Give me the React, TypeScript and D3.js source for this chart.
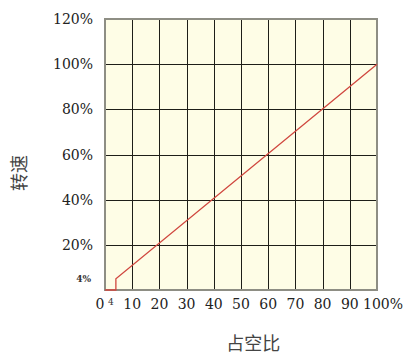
import React, { useEffect, useRef } from "react";
import * as d3 from "d3";

// duty ratio (x, %) vs speed (y, %)
const dutyPoints = [0, 4, 4, 100];
const speedPoints = [0, 0, 5, 100];
const xTicks = [0, 10, 20, 30, 40, 50, 60, 70, 80, 90, 100];
const xTickLabels = ["0", "10", "20", "30", "40", "50", "60", "70", "80", "90", "100%"];
const yTicks = [20, 40, 60, 80, 100, 120];
const yTickLabels = ["20%", "40%", "60%", "80%", "100%", "120%"];
const startMarkX = 4;
const startMarkY = 5;
const startLabelX = "4";
const startLabelY = "4%";
const xTitle = "占空比";
const yTitle = "转速";

export default function App() {
  const ref = useRef<SVGSVGElement>(null);

  useEffect(() => {
    const svg = d3.select(ref.current);
    svg.selectAll("*").remove();

    const margin = { top: 19, right: 27, bottom: 64, left: 105 };
    const width = 404 - margin.left - margin.right;
    const height = 354 - margin.top - margin.bottom;
    const font = "'DejaVu Serif', serif";

    const x = d3.scaleLinear().domain([0, 100]).range([0, width]);
    const y = d3.scaleLinear().domain([0, 120]).range([height, 0]);

    const g = svg.append("g").attr("transform", `translate(${margin.left},${margin.top})`);

    g.append("rect")
      .attr("width", width)
      .attr("height", height)
      .attr("fill", "#fefde6");

    // grid
    g.selectAll(".vgrid")
      .data(xTicks.slice(1, -1))
      .enter()
      .append("line")
      .attr("x1", d => Math.round(x(d)) + 0.5)
      .attr("x2", d => Math.round(x(d)) + 0.5)
      .attr("y1", 0)
      .attr("y2", height)
      .attr("stroke", "#1e1e18")
      .attr("stroke-width", 1);
    g.selectAll(".hgrid")
      .data(yTicks.slice(0, -1))
      .enter()
      .append("line")
      .attr("x1", 0)
      .attr("x2", width)
      .attr("y1", d => Math.round(y(d)) + 0.5)
      .attr("y2", d => Math.round(y(d)) + 0.5)
      .attr("stroke", "#1e1e18")
      .attr("stroke-width", 1);

    g.append("rect")
      .attr("width", width)
      .attr("height", height)
      .attr("fill", "none")
      .attr("stroke", "#8e8e84")
      .attr("stroke-width", 2);

    // line
    const pts: [number, number][] = dutyPoints.map((d, i) => [d, speedPoints[i]]);
    g.append("path")
      .datum(pts)
      .attr("fill", "none")
      .attr("stroke", "#d0473f")
      .attr("stroke-width", 1.3)
      .attr(
        "d",
        d3
          .line<[number, number]>()
          .x(d => x(d[0]))
          .y(d => y(d[1]))
      );

    // y tick labels
    g.selectAll(".ylab")
      .data(yTicks)
      .enter()
      .append("text")
      .attr("x", -12)
      .attr("y", d => y(d) + 5)
      .attr("text-anchor", "end")
      .attr("font-family", font)
      .attr("font-size", 14)
      .attr("fill", "#222")
      .text((d, i) => yTickLabels[i]);

    g.append("text")
      .attr("x", -14)
      .attr("y", y(startMarkY) + 3)
      .attr("text-anchor", "end")
      .attr("font-family", font)
      .attr("font-size", 9)
      .attr("font-weight", "bold")
      .attr("fill", "#333")
      .text(startLabelY);

    // x tick labels
    g.selectAll(".xlab")
      .data(xTicks)
      .enter()
      .append("text")
      .attr("x", d => (d === 0 ? x(d) - 5 : d === 100 ? width + margin.right - 1 : x(d)))
      .attr("y", height + 19)
      .attr("text-anchor", d => (d === 100 ? "end" : "middle"))
      .attr("font-family", font)
      .attr("font-size", 14)
      .attr("fill", "#222")
      .text((d, i) => xTickLabels[i]);

    g.append("text")
      .attr("x", x(startMarkX) - 5)
      .attr("y", height + 15)
      .attr("text-anchor", "middle")
      .attr("font-family", font)
      .attr("font-size", 9)
      .attr("fill", "#333")
      .text(startLabelX);

    // titles
    svg
      .append("text")
      .attr("x", margin.left + x(60) - 15)
      .attr("y", 350)
      .attr("text-anchor", "middle")
      .attr("font-family", "'Noto Sans CJK SC', sans-serif")
      .attr("font-size", 18)
      .attr("fill", "#444")
      .text(xTitle);

    svg
      .append("text")
      .attr("transform", "translate(26,173) rotate(-90)")
      .attr("text-anchor", "middle")
      .attr("font-family", "'Noto Sans CJK SC', sans-serif")
      .attr("font-size", 18)
      .attr("fill", "#444")
      .text(yTitle);
  }, []);

  return (
    <svg
      ref={ref}
      width={404}
      height={354}
      style={{ position: "absolute", left: 0, top: 0, background: "#fff" }}
    />
  );
}
